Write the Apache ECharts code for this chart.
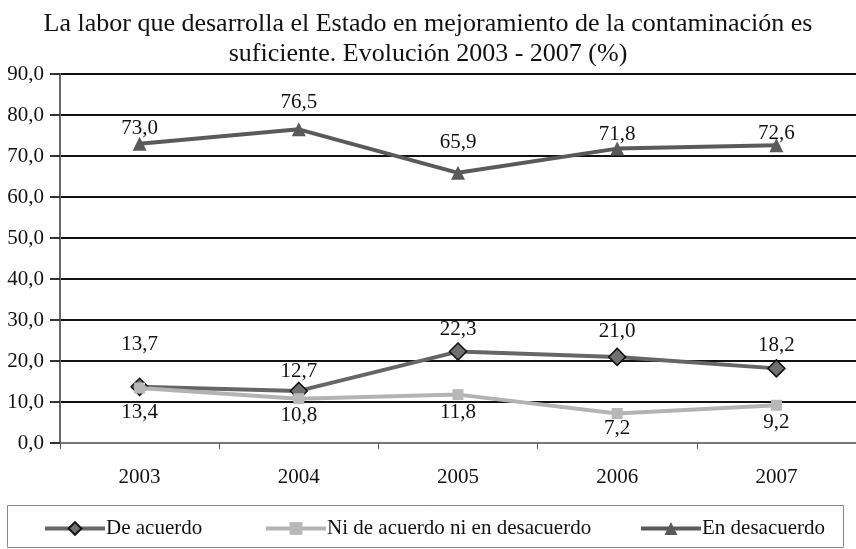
<!DOCTYPE html>
<html>
<head>
<meta charset="utf-8">
<script src="https://cdn.jsdelivr.net/npm/echarts@6/dist/echarts.min.js"></script>
<style>
  html, body { margin: 0; padding: 0; background: #fff; }
  #chart { width: 856px; height: 549px; }
</style>
</head>
<body>
<div id="chart"></div>
<script>
// datos
const years = ["2003", "2004", "2005", "2006", "2007"];
const deAcuerdo = [13.7, 12.7, 22.3, 21.0, 18.2];
const niNi = [13.4, 10.8, 11.8, 7.2, 9.2];
const enDesacuerdo = [73.0, 76.5, 65.9, 71.8, 72.6];
const yTicks = [0, 10, 20, 30, 40, 50, 60, 70, 80, 90];

const serif = "Liberation Serif";
const fmt = v => v.toFixed(1).replace(".", ",");
const labelFont = { fontFamily: serif, fontSize: 21, color: "#111" };

// pequeños desplazamientos verticales de las etiquetas, como en el original
const withLabels = (values, pos, nudges) =>
  values.map((v, i) => ({ value: v, label: { position: pos, offset: [0, nudges[i]] } }));

var myChart = echarts.init(document.getElementById("chart"));

myChart.setOption({
  animation: false,
  backgroundColor: "#fff",
  textStyle: { fontFamily: serif, color: "#111" },
  title: {
    text: "La labor que desarrolla el Estado en mejoramiento de la contaminación es\nsuficiente. Evolución 2003 - 2007 (%)",
    left: "center",
    top: 4,
    textStyle: { fontFamily: serif, fontSize: 26, fontWeight: "normal", color: "#111", lineHeight: 30 },
  },
  grid: { left: 60, right: -4, top: 74, bottom: 106 },
  xAxis: {
    type: "category",
    data: years,
    boundaryGap: true,
    axisLine: { lineStyle: { color: "#777", width: 2 } },
    axisTick: { show: true, length: 6, lineStyle: { color: "#555", width: 1 } },
    axisLabel: { fontFamily: serif, fontSize: 21, color: "#111", margin: 24 },
  },
  yAxis: {
    type: "value",
    min: yTicks[0],
    max: yTicks[yTicks.length - 1],
    interval: 10,
    axisLine: { show: true, lineStyle: { color: "#666", width: 2 } },
    axisTick: { show: true, length: 10, lineStyle: { color: "#333", width: 2 } },
    splitLine: { show: true, lineStyle: { color: "#111", width: 2 } },
    axisLabel: { fontFamily: serif, fontSize: 21, color: "#111", margin: 16, formatter: v => fmt(v) },
  },
  graphic: [
    {
      type: "rect",
      shape: { x: 7.5, y: 505.5, width: 836, height: 42 },
      style: { fill: "none", stroke: "#888", lineWidth: 1 },
    },
  ],
  legend: [
    { data: ["De acuerdo"], left: 38, top: 513 },
    { data: ["Ni de acuerdo ni en desacuerdo"], left: 259, top: 513 },
    { data: ["En desacuerdo"], left: 634, top: 513 },
  ].map(l => Object.assign(l, {
    itemWidth: 60,
    itemHeight: 16,
    itemGap: 0,
    lineStyle: { width: 4 },
    textStyle: { fontFamily: serif, fontSize: 21, color: "#111", padding: [0, 0, 0, -4] },
  })),
  series: [
    {
      name: "De acuerdo",
      type: "line",
      data: withLabels(deAcuerdo, "top", [-23, 0, -2, -6, -3]),
      symbol: "diamond",
      symbolSize: 17,
      lineStyle: { color: "#666", width: 4 },
      itemStyle: { color: "#707070", borderColor: "#111", borderWidth: 1.5 },
      label: Object.assign({ show: true, distance: 0, formatter: p => fmt(p.value) }, labelFont),
      z: 3,
    },
    {
      name: "Ni de acuerdo ni en desacuerdo",
      type: "line",
      data: withLabels(niNi, "bottom", [8, 1, 2, -1, 1]),
      symbol: "rect",
      symbolSize: 11,
      lineStyle: { color: "#b3b3b3", width: 4 },
      itemStyle: { color: "#b8b8b8" },
      label: Object.assign({ show: true, distance: 0, formatter: p => fmt(p.value) }, labelFont),
      z: 4,
    },
    {
      name: "En desacuerdo",
      type: "line",
      data: withLabels(enDesacuerdo, "top", [2, -9, -13, 3, 6]),
      symbol: "triangle",
      symbolSize: 14,
      lineStyle: { color: "#5a5a5a", width: 4 },
      itemStyle: { color: "#5a5a5a" },
      label: Object.assign({ show: true, distance: 0, formatter: p => fmt(p.value) }, labelFont),
    },
  ],
});
</script>
</body>
</html>
